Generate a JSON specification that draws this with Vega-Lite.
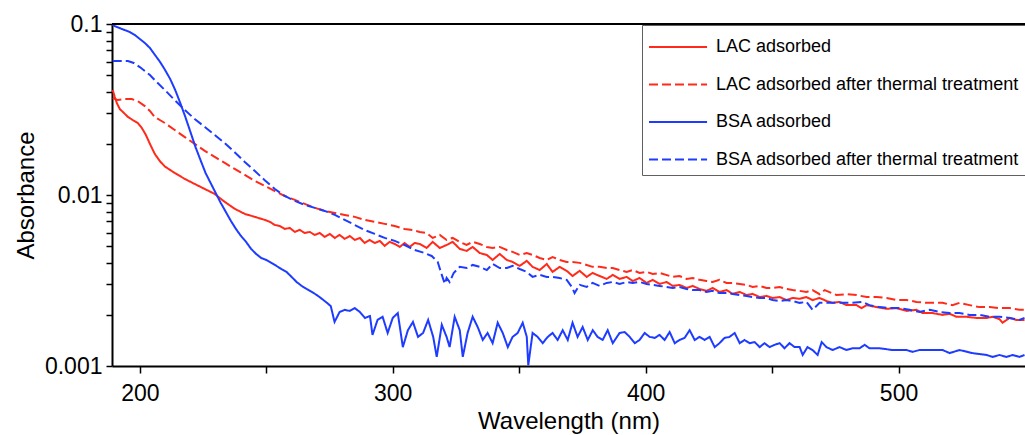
{
"$schema": "https://vega.github.io/schema/vega-lite/v6.json",
"width": 913, "height": 342,
"autosize": {"type": "none"},
"padding": {"left": 112, "top": 24, "right": 0, "bottom": 69},
"background": "white",
"config": {"view": {"stroke": null}, "font": "Liberation Sans"},
"datasets": {
"lac": [
{"w":189.3,"a":0.0411},{"w":190.1,"a":0.0374},{"w":190.9,"a":0.0345},{"w":192.1,"a":0.0318},{"w":193.7,"a":0.0302},{"w":195.3,"a":0.0286},{"w":197.2,"a":0.02745},{"w":199.2,"a":0.02637},{"w":200.8,"a":0.02465},{"w":202.4,"a":0.02243},{"w":204,"a":0.0199},{"w":205.9,"a":0.0174},{"w":207.9,"a":0.0158},{"w":209.9,"a":0.01468},{"w":213.8,"a":0.01345},{"w":217.8,"a":0.01241},{"w":221.7,"a":0.0116},{"w":225.7,"a":0.01084},{"w":229.6,"a":0.01014},{"w":233.6,"a":0.00911},{"w":237.5,"a":0.00831},{"w":241.5,"a":0.00775},{"w":245.5,"a":0.00745},{"w":249.4,"a":0.00715},{"w":251.4,"a":0.00697},{"w":253.4,"a":0.00668},{"w":255.3,"a":0.00659},{"w":257.3,"a":0.00633},{"w":259.3,"a":0.00642},{"w":261.3,"a":0.00608},{"w":263.2,"a":0.00625},{"w":265.2,"a":0.006},{"w":267.2,"a":0.00608},{"w":269.2,"a":0.00584},{"w":271.1,"a":0.006},{"w":273.1,"a":0.00569},{"w":275.1,"a":0.00592},{"w":277.1,"a":0.00561},{"w":279,"a":0.00584},{"w":281,"a":0.00554},{"w":283,"a":0.00576},{"w":285,"a":0.00546},{"w":287,"a":0.00561},{"w":288.9,"a":0.00524},{"w":290.9,"a":0.00546},{"w":292.9,"a":0.00524},{"w":294.9,"a":0.00539},{"w":296.8,"a":0.00504},{"w":298.8,"a":0.00532},{"w":300.8,"a":0.00517},{"w":302.8,"a":0.00497},{"w":304.7,"a":0.00524},{"w":306.7,"a":0.00497},{"w":308.7,"a":0.00524},{"w":310.7,"a":0.00517},{"w":313.4,"a":0.0049},{"w":315.8,"a":0.00532},{"w":318.6,"a":0.0049},{"w":321.3,"a":0.0051},{"w":323.7,"a":0.00532},{"w":326.5,"a":0.00484},{"w":329.2,"a":0.00471},{"w":331.6,"a":0.00497},{"w":334.4,"a":0.00458},{"w":337.2,"a":0.00446},{"w":339.5,"a":0.00417},{"w":342.3,"a":0.00452},{"w":345.1,"a":0.00417},{"w":347.4,"a":0.00406},{"w":350.2,"a":0.00385},{"w":353,"a":0.00412},{"w":355.3,"a":0.0038},{"w":358.1,"a":0.00364},{"w":360.9,"a":0.00395},{"w":363.2,"a":0.00355},{"w":366,"a":0.0038},{"w":368.8,"a":0.0036},{"w":371.1,"a":0.00336},{"w":373.9,"a":0.0036},{"w":376.7,"a":0.00332},{"w":379,"a":0.0035},{"w":381.8,"a":0.00336},{"w":384.6,"a":0.00323},{"w":387,"a":0.00341},{"w":389.7,"a":0.00323},{"w":392.5,"a":0.00332},{"w":394.9,"a":0.00314},{"w":397.6,"a":0.00327},{"w":400.4,"a":0.00306},{"w":402.8,"a":0.00319},{"w":405.5,"a":0.00302},{"w":408.3,"a":0.0031},{"w":410.7,"a":0.00294},{"w":413.4,"a":0.00298},{"w":416.2,"a":0.00286},{"w":418.6,"a":0.00294},{"w":421.3,"a":0.00282},{"w":424.1,"a":0.00275},{"w":426.5,"a":0.00286},{"w":429.2,"a":0.00271},{"w":432,"a":0.00278},{"w":434.4,"a":0.00264},{"w":437.2,"a":0.00271},{"w":439.9,"a":0.0026},{"w":442.3,"a":0.00264},{"w":445.1,"a":0.00253},{"w":447.8,"a":0.00257},{"w":450.2,"a":0.0025},{"w":453,"a":0.00253},{"w":455.7,"a":0.00243},{"w":458.1,"a":0.0025},{"w":460.9,"a":0.00247},{"w":463.6,"a":0.00253},{"w":466,"a":0.00243},{"w":468.8,"a":0.0025},{"w":471.5,"a":0.0024},{"w":473.9,"a":0.00234},{"w":476.7,"a":0.00237},{"w":479.4,"a":0.00227},{"w":483.4,"a":0.00227},{"w":485.4,"a":0.00218},{"w":487.4,"a":0.00227},{"w":491.3,"a":0.00221},{"w":495.3,"a":0.00216},{"w":499.2,"a":0.00218},{"w":503.2,"a":0.0021},{"w":507.1,"a":0.00213},{"w":509.5,"a":0.00204},{"w":513.4,"a":0.00204},{"w":517.4,"a":0.00199},{"w":520.2,"a":0.00202},{"w":522.9,"a":0.00194},{"w":526.9,"a":0.00194},{"w":530.8,"a":0.00191},{"w":534.8,"a":0.00191},{"w":537.2,"a":0.00194},{"w":539.9,"a":0.00188},{"w":541.1,"a":0.00179},{"w":543.9,"a":0.00191},{"w":546.6,"a":0.00186},{"w":549.8,"a":0.00186}
],
"lacHeat": [
{"w":189.3,"a":0.0369},{"w":191.3,"a":0.0359},{"w":194.1,"a":0.0364},{"w":196.8,"a":0.0364},{"w":199.2,"a":0.0354},{"w":202,"a":0.0331},{"w":204,"a":0.031},{"w":205.9,"a":0.0286},{"w":207.9,"a":0.02745},{"w":209.9,"a":0.02637},{"w":213.8,"a":0.024},{"w":217.8,"a":0.0218},{"w":221.7,"a":0.0199},{"w":225.7,"a":0.0181},{"w":229.6,"a":0.0167},{"w":233.6,"a":0.0154},{"w":237.5,"a":0.0142},{"w":241.5,"a":0.0131},{"w":245.5,"a":0.0121},{"w":249.4,"a":0.0113},{"w":253.4,"a":0.01055},{"w":257.3,"a":0.00987},{"w":261.3,"a":0.00936},{"w":265.2,"a":0.00887},{"w":269.2,"a":0.00841},{"w":273.1,"a":0.00807},{"w":277.1,"a":0.00785},{"w":281,"a":0.00765},{"w":285,"a":0.00745},{"w":288.9,"a":0.00715},{"w":292.9,"a":0.00697},{"w":296.8,"a":0.00678},{"w":300.8,"a":0.00659},{"w":304.7,"a":0.00633},{"w":307.9,"a":0.00624},{"w":310.7,"a":0.00608},{"w":313.4,"a":0.006},{"w":315.8,"a":0.00561},{"w":318.6,"a":0.00584},{"w":321.3,"a":0.00546},{"w":323.7,"a":0.00561},{"w":326.5,"a":0.00532},{"w":329.2,"a":0.0051},{"w":331.6,"a":0.00532},{"w":334.4,"a":0.00517},{"w":337.2,"a":0.00497},{"w":339.5,"a":0.0049},{"w":342.3,"a":0.00497},{"w":345.1,"a":0.00477},{"w":347.4,"a":0.00465},{"w":350.2,"a":0.00446},{"w":353,"a":0.00458},{"w":355.3,"a":0.00446},{"w":358.1,"a":0.00428},{"w":360.9,"a":0.00417},{"w":363.2,"a":0.00434},{"w":366,"a":0.00417},{"w":368.8,"a":0.00406},{"w":371.1,"a":0.00406},{"w":373.9,"a":0.00401},{"w":376.7,"a":0.0039},{"w":379,"a":0.0038},{"w":381.8,"a":0.0038},{"w":384.6,"a":0.00374},{"w":387,"a":0.00374},{"w":389.7,"a":0.00364},{"w":392.5,"a":0.00355},{"w":394.9,"a":0.00364},{"w":397.6,"a":0.0035},{"w":400.4,"a":0.00355},{"w":402.8,"a":0.00345},{"w":405.5,"a":0.0035},{"w":410.7,"a":0.00332},{"w":413.4,"a":0.00336},{"w":416.2,"a":0.00323},{"w":418.6,"a":0.00327},{"w":421.3,"a":0.00319},{"w":424.1,"a":0.00314},{"w":426.5,"a":0.0031},{"w":429.2,"a":0.00319},{"w":432,"a":0.00306},{"w":434.4,"a":0.00306},{"w":437.2,"a":0.00302},{"w":439.9,"a":0.00298},{"w":442.3,"a":0.0029},{"w":445.1,"a":0.00294},{"w":447.8,"a":0.00286},{"w":450.2,"a":0.00286},{"w":453,"a":0.0029},{"w":455.7,"a":0.00282},{"w":458.1,"a":0.00278},{"w":460.9,"a":0.00275},{"w":463.6,"a":0.00271},{"w":466,"a":0.00278},{"w":468.8,"a":0.00263},{"w":470.8,"a":0.00278},{"w":475.5,"a":0.0026},{"w":479.4,"a":0.00263},{"w":483.4,"a":0.0026},{"w":487.4,"a":0.00253},{"w":491.3,"a":0.00253},{"w":495.3,"a":0.0025},{"w":499.2,"a":0.00243},{"w":503.2,"a":0.00243},{"w":507.1,"a":0.00237},{"w":511.1,"a":0.00234},{"w":517.4,"a":0.00234},{"w":521.3,"a":0.00227},{"w":524.1,"a":0.00234},{"w":528.1,"a":0.00227},{"w":532,"a":0.00221},{"w":536,"a":0.00221},{"w":539.9,"a":0.00218},{"w":543.9,"a":0.00218},{"w":547.8,"a":0.00213},{"w":549.8,"a":0.00213}
],
"bsa": [
{"w":189,"a":0.0995},{"w":190,"a":0.0973},{"w":192,"a":0.0947},{"w":194,"a":0.0922},{"w":196,"a":0.0898},{"w":198,"a":0.0863},{"w":200,"a":0.0817},{"w":202,"a":0.0774},{"w":204,"a":0.0724},{"w":206,"a":0.0659},{"w":208,"a":0.06},{"w":210,"a":0.0538},{"w":212,"a":0.0477},{"w":214,"a":0.0411},{"w":216,"a":0.0345},{"w":218,"a":0.0286},{"w":220,"a":0.0234},{"w":222,"a":0.0191},{"w":224,"a":0.016},{"w":226,"a":0.01345},{"w":228,"a":0.01175},{"w":230,"a":0.01027},{"w":232,"a":0.00899},{"w":234,"a":0.00796},{"w":236,"a":0.00706},{"w":238,"a":0.00633},{"w":240,"a":0.00576},{"w":242,"a":0.00532},{"w":244,"a":0.00484},{"w":246,"a":0.00452},{"w":248,"a":0.00428},{"w":250,"a":0.00417},{"w":252,"a":0.00401},{"w":254,"a":0.00385},{"w":256,"a":0.00369},{"w":258,"a":0.00355},{"w":260,"a":0.00332},{"w":262,"a":0.0031},{"w":264,"a":0.00294},{"w":266,"a":0.00282},{"w":268,"a":0.00271},{"w":270,"a":0.0026},{"w":272,"a":0.00247},{"w":274,"a":0.00234},{"w":275.5,"a":0.00224},{"w":277,"a":0.00181},{"w":279,"a":0.00207},{"w":281,"a":0.00213},{"w":283,"a":0.0021},{"w":285,"a":0.00218},{"w":287,"a":0.00207},{"w":289,"a":0.00191},{"w":291,"a":0.00196},{"w":292,"a":0.00152},{"w":294,"a":0.00186},{"w":296,"a":0.00194},{"w":298,"a":0.00156},{"w":300,"a":0.00191},{"w":302,"a":0.00204},{"w":304,"a":0.00129},{"w":306,"a":0.00162},{"w":308,"a":0.00181},{"w":310,"a":0.00148},{"w":312,"a":0.00156},{"w":314,"a":0.00186},{"w":316,"a":0.00148},{"w":317.4,"a":0.00113},{"w":319.4,"a":0.00174},{"w":321.3,"a":0.00148},{"w":322.5,"a":0.00129},{"w":324.5,"a":0.00194},{"w":326.5,"a":0.00162},{"w":327.7,"a":0.00113},{"w":329.6,"a":0.00156},{"w":331.6,"a":0.00194},{"w":333.6,"a":0.00169},{"w":335.6,"a":0.00142},{"w":337.5,"a":0.00156},{"w":339.5,"a":0.00136},{"w":341.5,"a":0.00179},{"w":343.5,"a":0.00156},{"w":345.5,"a":0.00129},{"w":347.4,"a":0.00148},{"w":349.4,"a":0.00156},{"w":351.4,"a":0.00179},{"w":353,"a":0.00148},{"w":353.6,"a":0.00101},{"w":355.3,"a":0.00156},{"w":357.3,"a":0.00148},{"w":359.3,"a":0.00136},{"w":361.3,"a":0.00148},{"w":363.2,"a":0.00156},{"w":365.2,"a":0.00142},{"w":367.2,"a":0.00162},{"w":369.2,"a":0.00142},{"w":371.1,"a":0.00179},{"w":373.1,"a":0.00148},{"w":375.1,"a":0.00169},{"w":377.1,"a":0.00142},{"w":379.1,"a":0.00162},{"w":381,"a":0.00148},{"w":383,"a":0.00142},{"w":385,"a":0.00162},{"w":387,"a":0.00136},{"w":389.7,"a":0.00156},{"w":391.7,"a":0.00158},{"w":393.7,"a":0.00148},{"w":395.7,"a":0.00136},{"w":397.6,"a":0.00142},{"w":399.6,"a":0.00156},{"w":401.6,"a":0.00148},{"w":403.6,"a":0.00146},{"w":405.5,"a":0.00152},{"w":407.5,"a":0.00142},{"w":409.5,"a":0.00158},{"w":411.5,"a":0.00136},{"w":413.4,"a":0.00142},{"w":415.4,"a":0.00146},{"w":417.4,"a":0.00162},{"w":419.4,"a":0.00142},{"w":421.3,"a":0.00148},{"w":423.3,"a":0.00142},{"w":425.3,"a":0.00148},{"w":427.3,"a":0.00129},{"w":429.2,"a":0.00136},{"w":431.2,"a":0.00146},{"w":433.2,"a":0.00148},{"w":435.2,"a":0.00156},{"w":437.2,"a":0.00136},{"w":439.1,"a":0.00142},{"w":441.1,"a":0.00136},{"w":443.1,"a":0.00138},{"w":445.1,"a":0.00129},{"w":447,"a":0.00136},{"w":449,"a":0.00129},{"w":451,"a":0.00133},{"w":453,"a":0.00136},{"w":454.9,"a":0.00127},{"w":456.9,"a":0.00136},{"w":458.9,"a":0.00129},{"w":460.9,"a":0.00129},{"w":462.1,"a":0.00116},{"w":464,"a":0.00129},{"w":466,"a":0.00124},{"w":468,"a":0.00116},{"w":469.6,"a":0.00138},{"w":471.5,"a":0.00129},{"w":473.9,"a":0.00124},{"w":476.7,"a":0.00129},{"w":479.4,"a":0.00124},{"w":481.8,"a":0.00127},{"w":484.6,"a":0.00127},{"w":486.6,"a":0.00133},{"w":488.5,"a":0.00127},{"w":492.5,"a":0.00127},{"w":497.6,"a":0.00124},{"w":503.2,"a":0.00124},{"w":505.5,"a":0.00121},{"w":508.3,"a":0.00124},{"w":513.4,"a":0.00124},{"w":517.4,"a":0.00124},{"w":520.2,"a":0.00119},{"w":524.1,"a":0.00124},{"w":529.2,"a":0.00119},{"w":534.8,"a":0.00116},{"w":537.2,"a":0.00113},{"w":539.9,"a":0.00116},{"w":542.7,"a":0.00113},{"w":545.1,"a":0.00116},{"w":547.8,"a":0.00113},{"w":549.8,"a":0.00116}
],
"bsaHeat": [
{"w":189.3,"a":0.0608},{"w":192.1,"a":0.0608},{"w":195.3,"a":0.0608},{"w":197.6,"a":0.0592},{"w":200,"a":0.056},{"w":202,"a":0.0531},{"w":204,"a":0.0503},{"w":205.9,"a":0.047},{"w":209.9,"a":0.0411},{"w":213.8,"a":0.0359},{"w":217.8,"a":0.0314},{"w":221.7,"a":0.0278},{"w":225.7,"a":0.025},{"w":229.6,"a":0.02243},{"w":233.6,"a":0.0201},{"w":237.5,"a":0.0178},{"w":241.5,"a":0.0156},{"w":245.5,"a":0.0138},{"w":249.4,"a":0.0122},{"w":253.4,"a":0.01084},{"w":257.3,"a":0.00987},{"w":261.3,"a":0.00924},{"w":265.2,"a":0.00875},{"w":269.2,"a":0.00841},{"w":273.1,"a":0.00807},{"w":277.1,"a":0.00765},{"w":281,"a":0.00715},{"w":285,"a":0.00668},{"w":288.9,"a":0.00624},{"w":292.9,"a":0.00592},{"w":296.8,"a":0.00561},{"w":300.8,"a":0.00539},{"w":304.7,"a":0.0051},{"w":308.7,"a":0.00477},{"w":312.6,"a":0.00458},{"w":315.4,"a":0.0044},{"w":317.8,"a":0.00406},{"w":319.4,"a":0.00341},{"w":320.6,"a":0.00302},{"w":321.3,"a":0.00327},{"w":322.5,"a":0.0031},{"w":324.1,"a":0.0035},{"w":326.5,"a":0.0038},{"w":329.2,"a":0.00374},{"w":331.6,"a":0.0039},{"w":334.4,"a":0.0038},{"w":337.2,"a":0.00364},{"w":339.5,"a":0.00395},{"w":342.3,"a":0.00374},{"w":345.1,"a":0.00374},{"w":347.4,"a":0.00385},{"w":350.2,"a":0.00369},{"w":353,"a":0.00355},{"w":355.3,"a":0.00332},{"w":358.1,"a":0.00341},{"w":360.9,"a":0.00332},{"w":363.2,"a":0.00332},{"w":366,"a":0.00327},{"w":368.8,"a":0.00319},{"w":370.8,"a":0.0029},{"w":371.9,"a":0.00267},{"w":373.9,"a":0.00298},{"w":376.7,"a":0.0029},{"w":379,"a":0.00306},{"w":381.8,"a":0.00294},{"w":384.6,"a":0.00306},{"w":387,"a":0.0031},{"w":389.7,"a":0.00302},{"w":392.5,"a":0.0031},{"w":394.9,"a":0.00306},{"w":397.6,"a":0.0031},{"w":400.4,"a":0.00302},{"w":402.8,"a":0.00298},{"w":405.5,"a":0.00294},{"w":408.3,"a":0.0029},{"w":410.7,"a":0.00286},{"w":413.4,"a":0.0029},{"w":416.2,"a":0.00282},{"w":418.6,"a":0.00278},{"w":421.3,"a":0.00278},{"w":424.1,"a":0.00271},{"w":426.5,"a":0.00275},{"w":429.2,"a":0.00267},{"w":432,"a":0.00267},{"w":434.4,"a":0.00264},{"w":437.2,"a":0.0026},{"w":439.9,"a":0.00257},{"w":442.3,"a":0.00253},{"w":445.1,"a":0.0025},{"w":447.8,"a":0.0025},{"w":450.2,"a":0.00243},{"w":453,"a":0.0024},{"w":455.7,"a":0.00243},{"w":458.1,"a":0.0024},{"w":460.9,"a":0.00234},{"w":463.6,"a":0.00237},{"w":466,"a":0.00213},{"w":468.8,"a":0.00234},{"w":473.9,"a":0.00234},{"w":481.8,"a":0.00234},{"w":485.8,"a":0.00237},{"w":488.5,"a":0.00227},{"w":492.5,"a":0.00221},{"w":496.4,"a":0.00218},{"w":500.4,"a":0.00218},{"w":504.3,"a":0.00213},{"w":508.3,"a":0.00207},{"w":512.3,"a":0.00213},{"w":516.2,"a":0.00207},{"w":520.2,"a":0.00204},{"w":524.1,"a":0.00204},{"w":528.1,"a":0.00199},{"w":532,"a":0.00199},{"w":536,"a":0.00194},{"w":539.9,"a":0.00194},{"w":543.9,"a":0.00191},{"w":547.8,"a":0.00186},{"w":549.8,"a":0.00191}
]
},
"layer": [
{
"data": {"name": "lac"},
"mark": {"type": "line", "strokeWidth": 2, "clip": true},
"encoding": {
"x": {"field": "w", "type": "quantitative",
"scale": {"domain": [189, 550], "nice": false, "zero": false},
"axis": {"values": [200, 250, 300, 350, 400, 450, 500], "format": "d",
"labelExpr": "datum.value % 100 === 0 ? datum.label : ''",
"ticks": true, "tickSize": 7,
"grid": false, "domainColor": "black", "domainWidth": 2, "tickColor": "black", "tickWidth": 1.5,
"labelFont": "Liberation Sans", "labelFontSize": 23, "labelColor": "black", "labelPadding": 9,
"title": "Wavelength (nm)", "titleFont": "Liberation Sans", "titleFontSize": 24, "titleFontWeight": "normal", "titleColor": "black", "titlePadding": 4}},
"y": {"field": "a", "type": "quantitative",
"scale": {"type": "log", "domain": [0.001, 0.1], "nice": false},
"axis": {"values": [0.001,0.002,0.003,0.004,0.005,0.006,0.007,0.008,0.009,0.01,0.02,0.03,0.04,0.05,0.06,0.07,0.08,0.09,0.1],
"labelExpr": "datum.value === 0.1 ? '0.1' : datum.value === 0.01 ? '0.01' : datum.value === 0.001 ? '0.001' : ''",
"ticks": true, "tickSize": 6,
"grid": false, "domainColor": "black", "domainWidth": 2, "tickColor": "black", "tickWidth": 1.5,
"labelFont": "Liberation Sans", "labelFontSize": 23, "labelColor": "black", "labelPadding": 4,
"title": "Absorbance", "titleFont": "Liberation Sans", "titleFontSize": 24, "titleFontWeight": "normal", "titleColor": "black", "titlePadding": 6}},
"color": {"datum": "LAC adsorbed", "type": "nominal",
"scale": {"domain": ["LAC adsorbed", "LAC adsorbed after thermal treatment", "BSA adsorbed", "BSA adsorbed after thermal treatment"], "range": ["#ff2a1a", "#ff2a1a", "#1e3cff", "#1e3cff"]},
"legend": {"title": null, "orient": "none", "legendX": 530, "legendY": 1, "direction": "vertical",
"strokeColor": "#606060", "fillColor": "white", "padding": 6,
"symbolType": "M-1,0H2.87", "symbolSize": 900, "symbolStrokeWidth": 2,
"labelFont": "Liberation Sans", "labelFontSize": 18, "labelColor": "black", "labelOffset": 36, "labelLimit": 400, "rowPadding": 12.5}},
"strokeDash": {"datum": "LAC adsorbed", "type": "nominal",
"scale": {"domain": ["LAC adsorbed", "LAC adsorbed after thermal treatment", "BSA adsorbed", "BSA adsorbed after thermal treatment"], "range": [[1, 0], [9, 4], [1, 0], [9, 4]]},
"legend": {"title": null, "orient": "none", "legendX": 530, "legendY": 1, "direction": "vertical",
"strokeColor": "#606060", "fillColor": "white", "padding": 6,
"symbolType": "M-1,0H2.87", "symbolSize": 900, "symbolStrokeWidth": 2,
"labelFont": "Liberation Sans", "labelFontSize": 18, "labelColor": "black", "labelOffset": 36, "labelLimit": 400, "rowPadding": 12.5}}
}
},
{
"data": {"name": "lacHeat"},
"mark": {"type": "line", "strokeWidth": 2, "clip": true},
"encoding": {
"x": {"field": "w", "type": "quantitative"},
"y": {"field": "a", "type": "quantitative"},
"color": {"datum": "LAC adsorbed after thermal treatment", "type": "nominal"},
"strokeDash": {"datum": "LAC adsorbed after thermal treatment", "type": "nominal"}
}
},
{
"data": {"name": "bsa"},
"mark": {"type": "line", "strokeWidth": 2, "clip": true},
"encoding": {
"x": {"field": "w", "type": "quantitative"},
"y": {"field": "a", "type": "quantitative"},
"color": {"datum": "BSA adsorbed", "type": "nominal"},
"strokeDash": {"datum": "BSA adsorbed", "type": "nominal"}
}
},
{
"data": {"name": "bsaHeat"},
"mark": {"type": "line", "strokeWidth": 2, "clip": true},
"encoding": {
"x": {"field": "w", "type": "quantitative"},
"y": {"field": "a", "type": "quantitative"},
"color": {"datum": "BSA adsorbed after thermal treatment", "type": "nominal"},
"strokeDash": {"datum": "BSA adsorbed after thermal treatment", "type": "nominal"}
}
},
{
"data": {"values": [{}]},
"mark": {"type": "rule", "color": "black", "strokeWidth": 2},
"encoding": {"y": {"datum": 0.1}}
}
]
}
